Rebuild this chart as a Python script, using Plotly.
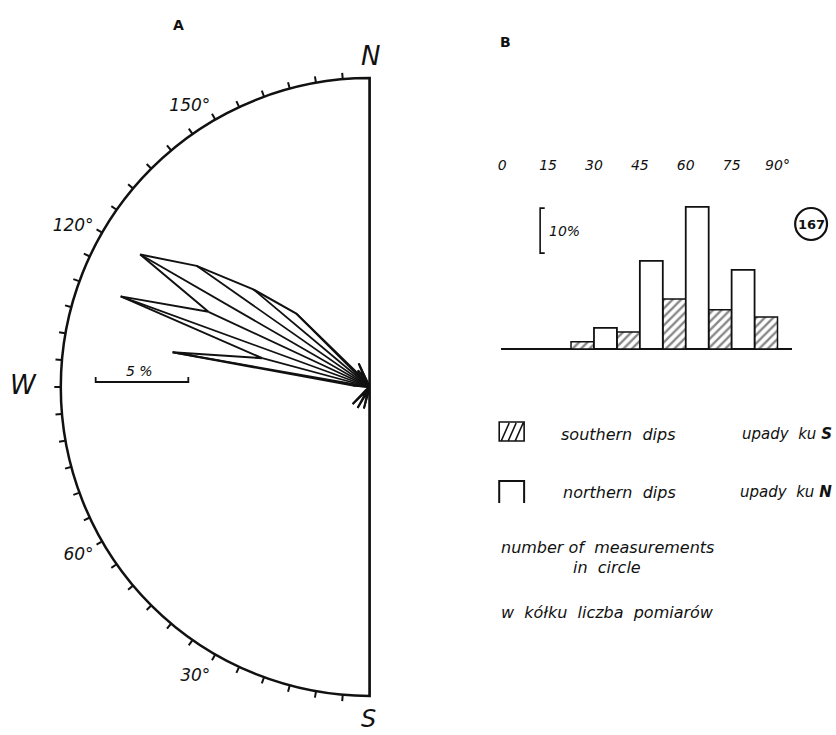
import plotly.graph_objects as go

W, H = 836, 735

# ---------------- data ----------------
# A: rose diagram of strikes (5-degree classes, % of measurements), 0 = S, 90 = W, 180 = N
rose_deg = [0, 5, 10, 15, 20, 25, 30, 35, 40, 45, 50, 55, 60, 65, 70, 75, 80, 85, 90,
            95, 100, 105, 110, 115, 120, 125, 130, 135, 140, 145, 150, 155, 160, 165, 170, 175, 180]
rose_pct = [0, 0, 0, 1.2, 0.4, 0.3, 1.3, 0.3, 0.3, 1.3, 0.3, 0, 0, 0, 0, 0, 0, 0, 0,
            0.9, 10.8, 6.0, 14.3, 9.6, 14.3, 11.4, 8.2, 5.6, 0.8, 1.1, 0.6, 1.4, 0, 0, 0, 0, 0]
rose_tick_deg = list(range(5, 180, 5))
rose_label_deg = [30, 60, 120, 150]
rose_rmax = 16.67          # % at the rim of the half circle
rose_scale_pct = 5

# B: histogram of dips (% of measurements)
dip_ticks = [0, 15, 30, 45, 60, 75, 90]
dip_ticklabels = ["0", "15", "30", "45", "60", "75", "90°"]
south_bin_start = [22.5, 37.5, 52.5, 67.5, 82.5]
south_pct = [1.6, 3.8, 11.1, 8.7, 7.1]
north_bin_start = [30, 45, 60, 75]
north_pct = [4.7, 19.6, 31.6, 17.6]
bin_width = 7.5
n_measurements = 167

# ---------------- helpers ----------------
def px(x):
    return x / W

def py(y):
    return 1 - y / H

FONT = "DejaVu Sans"
INK = "#111"
fig = go.Figure()

def note(text, x, y, size, xanchor="center", xref="paper", yref="paper"):
    if xref == "paper":
        x = px(x)
    if yref == "paper":
        y = py(y)
    fig.add_annotation(x=x, y=y, xref=xref, yref=yref, text=text, showarrow=False,
                       xanchor=xanchor, yanchor="middle",
                       font=dict(family=FONT, size=size, color=INK))

# ---------------- A: rose ----------------
fig.add_trace(go.Scatterpolar(
    theta=rose_deg, r=rose_pct, mode="lines",
    line=dict(color=INK, width=2), subplot="polar", showlegend=False, hoverinfo="skip"))
sp_t, sp_r = [], []
for a, v in zip(rose_deg, rose_pct):
    if v > 0:
        sp_t += [a, a, None]
        sp_r += [0, v, None]
fig.add_trace(go.Scatterpolar(
    theta=sp_t, r=sp_r, mode="lines", connectgaps=False,
    line=dict(color=INK, width=1.8), subplot="polar", showlegend=False, hoverinfo="skip"))
fig.add_trace(go.Scatterpolar(
    theta=[180, 180, 0], r=[rose_rmax, 0, rose_rmax], mode="lines",
    line=dict(color=INK, width=2.2), subplot="polar", showlegend=False, hoverinfo="skip"))
# invisible point so that the second (tick-only) polar subplot is rendered
fig.add_trace(go.Scatterpolar(
    theta=[90], r=[0], mode="markers", marker=dict(size=1, opacity=0),
    subplot="polar2", showlegend=False, hoverinfo="skip"))

ticktext = [f"<i>{d}°</i>" if d in rose_label_deg else "" for d in rose_tick_deg]

cx, cy, R = 368, 387, 310
common_ang = dict(type="linear", rotation=270, direction="clockwise", showgrid=False)
fig.update_layout(
    polar=dict(
        domain=dict(x=[px(cx - R), px(cx)], y=[py(cy + R), py(cy - R)]),
        sector=[90, 270],
        bgcolor="rgba(0,0,0,0)",
        radialaxis=dict(visible=False, range=[0, rose_rmax]),
        angularaxis=dict(**common_ang, showline=True, linecolor=INK, linewidth=2.5,
                         ticks="", showticklabels=False),
    ),
    polar2=dict(
        domain=dict(x=[px(cx - R), px(cx + R)], y=[py(cy + R), py(cy - R)]),
        bgcolor="rgba(0,0,0,0)",
        radialaxis=dict(visible=False, range=[0, rose_rmax]),
        angularaxis=dict(**common_ang, showline=False,
                         tickmode="array", tickvals=rose_tick_deg, ticktext=ticktext,
                         ticks="outside", ticklen=6, tickwidth=1.6, tickcolor=INK,
                         tickfont=dict(family=FONT, size=17, color=INK)),
    ),
)

# 5 % scale bar
bar_px = rose_scale_pct / rose_rmax * R
bx0, by = 93, 382
fig.add_shape(type="path", xref="paper", yref="paper",
              path=f"M {px(bx0)},{py(by-5)} L {px(bx0)},{py(by)} L {px(bx0+bar_px)},{py(by)} L {px(bx0+bar_px)},{py(by-5)}",
              line=dict(color=INK, width=1.8))
note(f"<i>{rose_scale_pct} %</i>", bx0 + bar_px / 2 - 2, 371, 14)

# compass letters and panel letters
note("<i>N</i>", 369, 56, 26)
note("<i>S</i>", 367, 719, 24)
note("<i>W</i>", 21, 385, 26)
note("<b>A</b>", 176, 25, 14)
note("<b>B</b>", 504, 42, 14)

# ---------------- B: histogram ----------------
x0_px, deg_px = 501, 3.07
xd0, xd1 = 500, 792
y0_px, pct_px = 349, 4.5
yd_bot, yd_top = 351.25, 174

fig.add_trace(go.Bar(
    x=[s + bin_width / 2 for s in south_bin_start], y=south_pct, width=bin_width,
    marker=dict(color="white", line=dict(color=INK, width=1.5),
                pattern=dict(shape="/", size=6, solidity=0.4, fgcolor=INK, bgcolor="white")),
    xaxis="x", yaxis="y", showlegend=False, hoverinfo="skip"))
fig.add_trace(go.Bar(
    x=[s + bin_width / 2 for s in north_bin_start], y=north_pct, width=bin_width,
    marker=dict(color="white", line=dict(color=INK, width=1.8)),
    xaxis="x", yaxis="y", showlegend=False, hoverinfo="skip"))

fig.update_layout(
    barmode="overlay",
    xaxis=dict(domain=[px(xd0), px(xd1)],
               range=[(xd0 - x0_px) / deg_px, (xd1 - x0_px) / deg_px],
               side="top", tickmode="array", tickvals=dip_ticks,
               ticktext=[f"<i>{t}</i>" for t in dip_ticklabels],
               ticks="", showline=False, showgrid=False, zeroline=False,
               tickfont=dict(family=FONT, size=14, color=INK)),
    yaxis=dict(domain=[py(yd_bot), py(yd_top)],
               range=[-(yd_bot - y0_px) / pct_px, (y0_px - yd_top) / pct_px],
               showticklabels=False, ticks="", showgrid=False, showline=False,
               zeroline=True, zerolinecolor=INK, zerolinewidth=2),
)

# 10 % bracket
bx = 12.4
fig.add_shape(type="path", xref="x", yref="y",
              path=f"M {bx+1.5},{31.3} L {bx},{31.3} L {bx},{21.3} L {bx+1.5},{21.3}",
              line=dict(color=INK, width=1.6))
note("<i>10%</i>", bx + 2.2, 26.3, 14, xanchor="left", xref="x", yref="y")

# count in circle
fig.add_shape(type="circle", xref="paper", yref="paper",
              x0=px(795), x1=px(827), y0=py(240), y1=py(208),
              line=dict(color=INK, width=2.2))
note(f"<b>{n_measurements}</b>", 811, 224, 13)

# legend icons
hpath = f"M {px(498)},{py(441)} L {px(498)},{py(422)} L {px(523)},{py(422)} L {px(523)},{py(441)} Z"
for o in [0, 7, 14]:
    hpath += f" M {px(500+o)},{py(441)} L {px(508+o)},{py(423)}"
fig.add_shape(type="path", xref="paper", yref="paper", path=hpath,
              line=dict(color=INK, width=1.6))
fig.add_shape(type="path", xref="paper", yref="paper",
              path=f"M {px(498)},{py(503)} L {px(498)},{py(481)} L {px(523)},{py(481)} L {px(523)},{py(503)}",
              line=dict(color=INK, width=2))

legend_left = [
    ("southern  dips", 558, 434),
    ("northern  dips", 560, 492),
    ("number of  measurements", 498, 547),
    ("in  circle", 570, 567),
    ("w  kółku  liczba  pomiarów", 498, 612),
]
for t, x, y in legend_left:
    note(f"<i>{t}</i>", x, y, 16, xanchor="left")
legend_right = [
    ("upady  ku <b>S</b>", 434),
    ("upady  ku <b>N</b>", 492),
]
for t, y in legend_right:
    note(f"<i>{t}</i>", 834, y, 15, xanchor="right")

fig.update_layout(width=W, height=H, margin=dict(l=0, r=0, t=0, b=0),
                  paper_bgcolor="white", plot_bgcolor="rgba(0,0,0,0)")

fig.write_html("out.html", config={"displayModeBar": False},
               post_script="document.body.style.margin='0';")
